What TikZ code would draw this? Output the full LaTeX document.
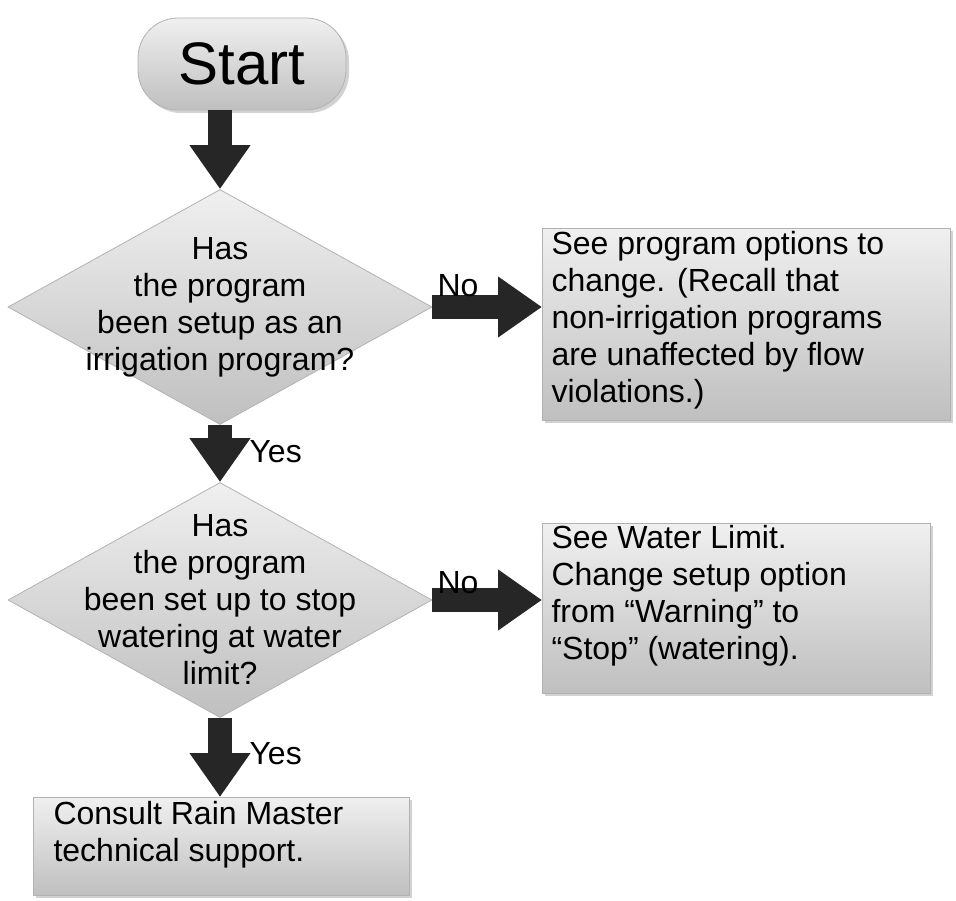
\documentclass[tikz,border=0pt]{standalone}
\usepackage{fontspec}
\setmainfont{Liberation Sans}
\usetikzlibrary{shapes.geometric,arrows.meta,shadows}
\begin{document}
\begin{tikzpicture}[x=1pt,y=-1pt,
  grad/.style={top color=gray!12,bottom color=gray!50,draw=gray!60,line width=0.8pt},
  box/.style={grad,rectangle,drop shadow={shadow xshift=3pt,shadow yshift=-3pt,fill=gray!70},inner sep=0pt,anchor=north west},
  dia/.style={grad,diamond,inner sep=0pt,minimum width=424,minimum height=235},
  txt/.style={font=\fontsize{32}{37}\selectfont,align=center},
  ltxt/.style={font=\fontsize{32}{37}\selectfont,align=left,anchor=north west},
  blk/.style={line width=24pt,draw=black!85,-{Triangle[length=44pt,width=58pt]}},
  lab/.style={font=\fontsize{32}{37}\selectfont}]
\useasboundingbox (0,0) rectangle (956,901);
\node[grad,rounded corners=40pt,minimum width=208,minimum height=92,drop shadow={shadow xshift=3pt,shadow yshift=-3pt,fill=gray!70},font=\fontsize{60}{66}\selectfont] (start) at (242,64) {Start};
\node[dia] (d1) at (220,307) {};
\node[txt] at (220,307) {Has\\the program\\been setup as an\\irrigation program?};
\node[dia] (d2) at (220,600) {};
\node[txt] at (220,600) {Has\\the program\\been set up to stop\\watering at water\\limit?};
\node[box,minimum width=408,minimum height=192] (b1) at (542,228) {};
\node[ltxt] at (548,228) {See program options to\\change. (Recall that\\non-irrigation programs\\are unaffected by flow\\violations.)};
\node[box,minimum width=388,minimum height=170] (b2) at (542,523) {};
\node[ltxt] at (548,522) {See Water Limit.\\Change setup option\\from “Warning” to\\“Stop” (watering).};
\node[box,minimum width=376,minimum height=98] (b3) at (33,797) {};
\node[ltxt] at (50,798) {Consult Rain Master\\technical support.};
\draw[blk] (start.south -| d1.north) ++(0,0) -- (d1.north);
\draw[blk] (d1.east) -- (b1.west |- d1.east);
\draw[blk] (d1.south) -- (d2.north);
\draw[blk] (d2.east) -- (b2.west |- d2.east);
\draw[blk] (d2.south) -- (d2.south |- b3.north);
\node[lab,anchor=south west] (n1) at (434,300) {No};
\node[lab,anchor=south west] (n2) at (434,597) {No};
\node[lab,anchor=west] (y1) at (246,452) {Yes};
\node[lab,anchor=west] (y2) at (246,754) {Yes};
\end{tikzpicture}
\end{document}
